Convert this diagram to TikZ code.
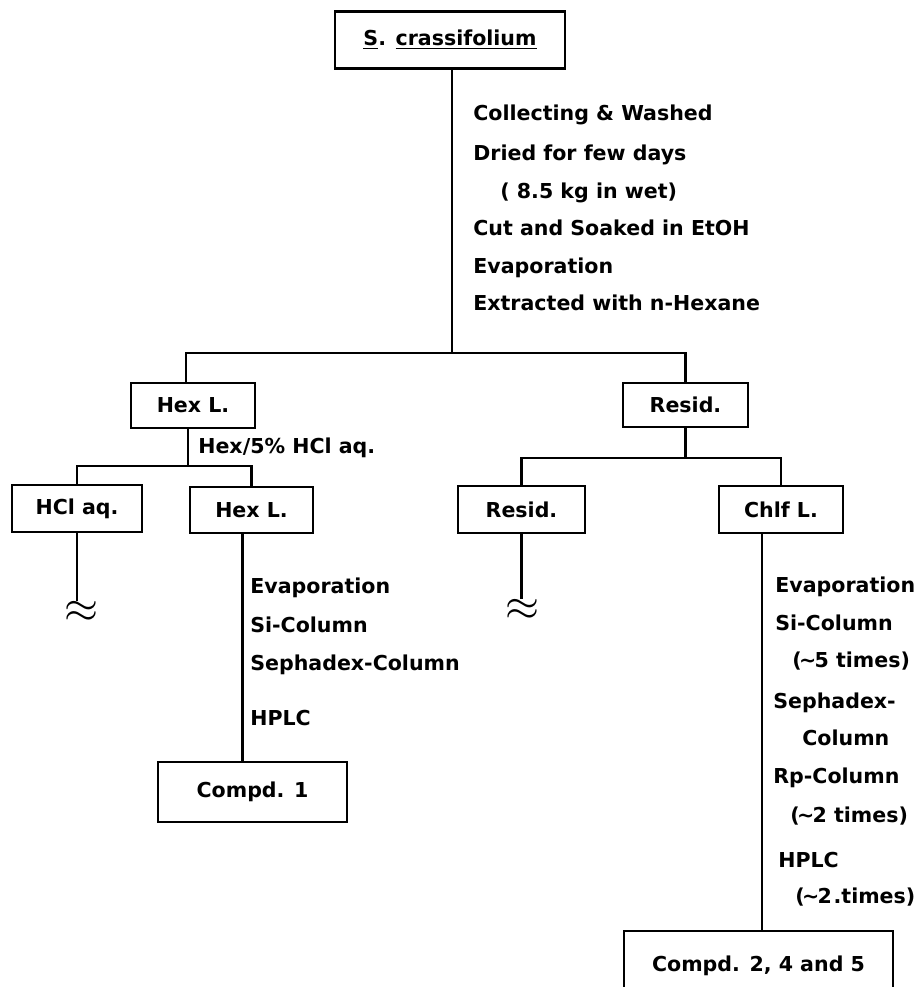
\documentclass[tikz,border=0pt]{standalone}
\usepackage{fontspec}
\setmainfont{DejaVu Sans}
\usetikzlibrary{positioning,calc}

\begin{document}
\begin{tikzpicture}[x=0.02cm,y=-0.02cm,line/.style={line width=1.4pt},font=\fontsize{11.7}{14}\selectfont\bfseries]
	\tikzset{box/.style={draw,line width=1.4pt,rectangle,inner sep=0pt,align=center}}
	\tikzset{note/.style={anchor=west,inner sep=0pt,text height=8.5pt,text depth=2.5pt}}
	\tikzset{wave/.style={inner sep=0pt,font=\fontsize{26}{26}\selectfont}}

	\useasboundingbox (0,0) rectangle (918,987);
	\clip (0,0) rectangle (918,987);

	\node[box, minimum width=4.6cm, minimum height=1.14cm] (sc) at (450,40) {\underline{S}. \underline{crassifolium}};

	\node[note] (wash) at (473,115) {Collecting \& Washed};
	\node[note] (dry) at (473,155) {Dried for few days};
	\node[note] (wet) at (500,193) {( 8.5 kg in wet)};
	\node[note] (soak) at (473,230) {Cut and Soaked in EtOH};
	\node[note] (evap) at (473,268) {Evaporation};
	\node[note] (extr) at (473,305) {Extracted with n-Hexane};

	\node[box, minimum width=2.48cm, minimum height=0.9cm] (hex1) at (193,405.5) {Hex L.};
	\node[box, minimum width=2.5cm, minimum height=0.88cm] (resid1) at (685.5,405) {Resid.};

	\node[note] (hexaq) at (198,448) {Hex/5\% HCl aq.};

	\node[box, minimum width=2.6cm, minimum height=0.94cm] (hcl) at (77,508.5) {HCl aq.};
	\node[box, minimum width=2.46cm, minimum height=0.92cm] (hex2) at (251.5,510) {Hex L.};
	\node[box, minimum width=2.54cm, minimum height=0.94cm] (resid2) at (521.5,509.5) {Resid.};
	\node[box, minimum width=2.48cm, minimum height=0.94cm] (chlf) at (781,509.5) {Chlf L.};

	\node[wave] (wave1) at (81,612) {$\approx$};
	\node[wave] (wave2) at (522,610) {$\approx$};

	\node[note] (evap1) at (250,588) {Evaporation};
	\node[note] (si1) at (250,627) {Si-Column};
	\node[note] (seph1) at (250,665) {Sephadex-Column};
	\node[note] (hplc1) at (250,720) {HPLC};

	\node[note] (evap2) at (775,587) {Evaporation};
	\node[note] (si2) at (775,625) {Si-Column};
	\node[note] (si2n) at (792,662) {(\kern-1.5pt\textasciitilde\kern-1pt5 times)};
	\node[note] (seph2) at (773,703) {Sephadex-};
	\node[note] (seph2b) at (802,740) {Column};
	\node[note] (rp2) at (773,778) {Rp-Column};
	\node[note] (rp2n) at (790,817) {(\kern-1.5pt\textasciitilde\kern-1pt2 times)};
	\node[note] (hplc2) at (778,862) {HPLC};
	\node[note] (hplc2n) at (795,898) {(\kern-1.5pt\textasciitilde\kern-1pt2\kern1pt.times)};

	\node[box, minimum width=3.78cm, minimum height=1.2cm] (c1) at (252.5,792) {Compd. 1};
	\node[box, minimum width=5.38cm, minimum height=1.38cm] (c245) at (758.5,965.5) {Compd. 2, 4 and 5};

	\coordinate (j0) at (452,353);
	\coordinate (j1) at (188,466);
	\coordinate (j2) at (684,458);

	\draw[line] (sc.south -| j0) -- (j0);
	\draw[line] ([xshift=-0.14cm]hex1.north) |- (j0) -| (resid1.north);

	\draw[line] ([xshift=-0.1cm]hex1.south) -- ([xshift=-0.1cm]hex1.south |- j1);
	\draw[line] (hcl.north) |- (j1) -| (hex2.north);

	\draw[line] (resid1.south) -- (resid1.south |- j2);
	\draw[line] (resid2.north) |- (j2) -| (chlf.north);

	\draw[line] (hcl.south) -- (hcl.south |- wave1.north);
	\draw[line] (resid2.south) -- (resid2.south |- wave2.north);

	\draw[line] ([xshift=-0.18cm]hex2.south) -- ([xshift=-0.18cm]hex2.south |- c1.north);
	\draw[line] ([xshift=-0.38cm]chlf.south) -- ([xshift=-0.38cm]chlf.south |- c245.north);

\end{tikzpicture}
\end{document}
